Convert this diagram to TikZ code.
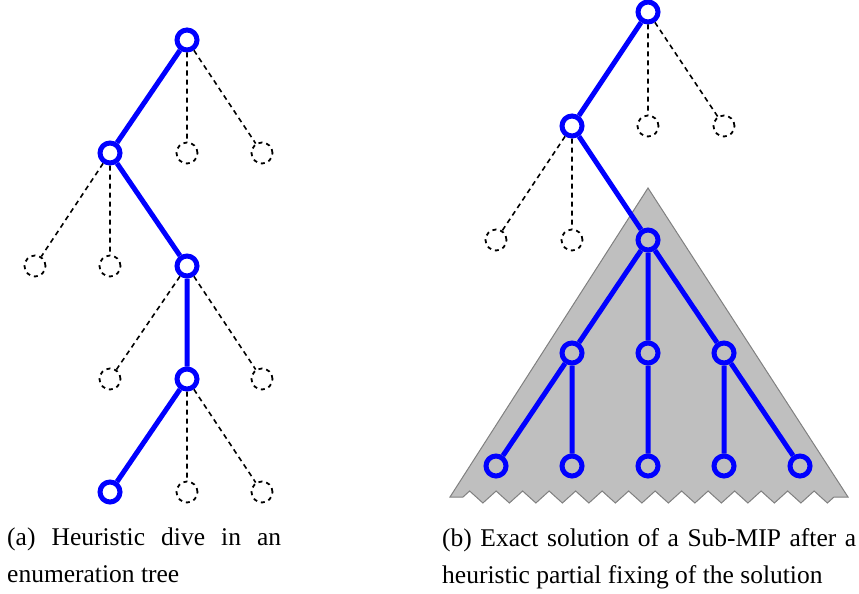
\documentclass[tikz,border=0pt]{standalone}
\usepackage{fontspec}
\setmainfont{Liberation Serif}
\usetikzlibrary{decorations.pathmorphing}
\hyphenpenalty=10000
\tikzset{
    onpath/.style = {draw=blue, circle, line width=5,
        minimum size=20, inner sep=0},
    offpath/.style = {draw=black, circle, line width=1.8,
        dash pattern=on 4 off 4, minimum size=21, inner sep=0},
    divearc/.style = {draw=blue, line width=5},
    skiparc/.style = {draw=black, line width=1.6, dash pattern=on 5 off 4},
    caption/.style = {anchor=north west, inner sep=0, align=justify,
        font=\fontsize{25.5}{37}\selectfont}
}

\begin{document}
\begin{tikzpicture}[x=1pt,y=-1pt]
    \useasboundingbox (0,0) rectangle (859,594);
    % sub-MIP region
    \filldraw[fill=gray!50, draw=gray, line width=1]
        (648,188) -- (848,497)
        decorate[decoration={zigzag, segment length=26.5, amplitude=6,
            pre length=14, post length=12}] {-- (450,497)} -- cycle;
    % (a) dive
    \node[onpath]  (a)  at (187,40)  {};
    \node[onpath]  (b1) at (110,153) {};
    \node[offpath] (b2) at (187,153) {};
    \node[offpath] (b3) at (262,153) {};
    \node[offpath] (c1) at (35,266)  {};
    \node[offpath] (c2) at (110,266) {};
    \node[onpath]  (c3) at (187,266) {};
    \node[offpath] (d1) at (110,379) {};
    \node[onpath]  (d2) at (187,379) {};
    \node[offpath] (d3) at (262,379) {};
    \node[onpath]  (e1) at (110,492) {};
    \node[offpath] (e2) at (187,492) {};
    \node[offpath] (e3) at (262,492) {};
    \draw[divearc] (a) -- (b1) (b1) -- (c3) (c3) -- (d2) (d2) -- (e1);
    \draw[skiparc] (a) -- (b2) (a) -- (b3) (b1) -- (c1) (b1) -- (c2)
        (c3) -- (d1) (c3) -- (d3) (d2) -- (e2) (d2) -- (e3);
    % (b) sub-MIP
    \node[onpath]  (p)  at (648,12)  {};
    \node[onpath]  (q1) at (572,126) {};
    \node[offpath] (q2) at (648,126) {};
    \node[offpath] (q3) at (724,126) {};
    \node[offpath] (s1) at (496,240) {};
    \node[offpath] (s2) at (572,240) {};
    \node[onpath]  (s3) at (648,240) {};
    \foreach \n/\x in {t1/572,t2/648,t3/724}
        \node[onpath] (\n) at (\x,353) {};
    \foreach \n/\x in {u1/496,u2/572,u3/648,u4/724,u5/800}
        \node[onpath] (\n) at (\x,466) {};
    \draw[divearc] (p) -- (q1) (q1) -- (s3);
    \draw[skiparc] (p) -- (q2) (p) -- (q3) (q1) -- (s1) (q1) -- (s2);
    \draw[divearc] (s3) -- (t1) (s3) -- (t2) (s3) -- (t3)
        (t1) -- (u1) (t1) -- (u2) (t2) -- (u3) (t3) -- (u4) (t3) -- (u5);
    % captions
    \node[caption, text width=274] (capa) at (7,528)
        {(a) Heuristic dive in an enumeration tree};
    \node[caption, text width=414] (capb) at (442,528)
        {(b) Exact solution of a Sub-MIP after a heuristic partial fixing of the solution};
\end{tikzpicture}
\end{document}
